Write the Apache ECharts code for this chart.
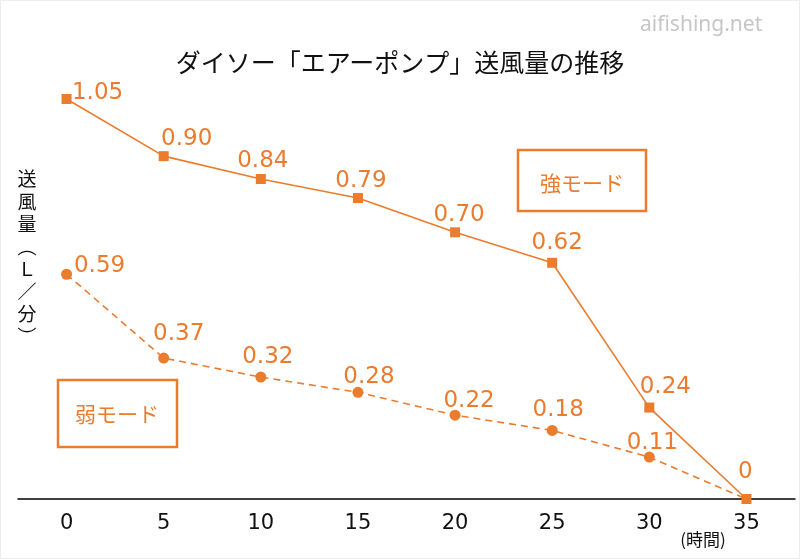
<!DOCTYPE html>
<html><head><meta charset="utf-8">
<script src="https://cdn.jsdelivr.net/npm/echarts@6/dist/echarts.min.js"></script>
<style>html,body{margin:0;padding:0;background:#fff}#c{width:800px;height:559px}</style>
</head><body><div id="c"></div>
<script>
const categories = ['0','5','10','15','20','25','30','35'];
const strongValues = [1.05, 0.90, 0.84, 0.79, 0.70, 0.62, 0.24, 0];
const weakValues = [0.59, 0.37, 0.32, 0.28, 0.22, 0.18, 0.11];
const strongLabelOffsets = [[31,-6],[23,-17],[2,-18],[3,-17],[4,-17],[5,-20],[16,-21],[-1,-27]];
const weakLabelOffsets = [[33,-8],[15,-24],[7,-20],[11,-15],[14,-14],[6,-20],[3,-14]];

const ORANGE = '#EB7B2D';
const FONT = '"Noto Sans CJK JP","Noto Sans",sans-serif';
const NUMFONT = '"DejaVu Sans",sans-serif';

function mk(vals, offs){
  return vals.map((v,i)=>({value:v, label:{offset:offs[i]}}));
}
const fmt = p => (p.value === 0 ? '0' : Number(p.value).toFixed(2));

const chart = echarts.init(document.getElementById('c'), null, {renderer:'canvas'});
chart.setOption({
  backgroundColor:'#ffffff',
  animation:false,
  title:{text:'ダイソー「エアーポンプ」送風量の推移', left:'center', top:45,
    textStyle:{fontFamily:FONT, fontSize:25, fontWeight:'normal', color:'#111'}},
  grid:{left:18, right:5, top:99, bottom:60},
  xAxis:{type:'category', data:categories, boundaryGap:true,
    axisLine:{lineStyle:{color:'#000', width:1.5}},
    axisTick:{show:false},
    axisLabel:{color:'#111', fontSize:21, fontFamily:NUMFONT, margin:14}},
  yAxis:{type:'value', min:0, max:1.05, show:false, splitLine:{show:false}},
  series:[
    {name:'強モード', type:'line', data:mk(strongValues,strongLabelOffsets),
      symbol:'rect', symbolSize:10, clip:false,
      itemStyle:{color:ORANGE}, lineStyle:{color:ORANGE, width:1.6},
      label:{show:true, position:'inside', color:ORANGE, fontSize:23, fontFamily:NUMFONT, formatter:fmt}},
    {name:'弱モード', type:'line', data:mk(weakValues,weakLabelOffsets).concat([{value:0, label:{show:false}, symbolSize:0}]),
      symbol:'circle', symbolSize:11, clip:false,
      itemStyle:{color:ORANGE}, lineStyle:{color:ORANGE, width:1.6, type:[7,5]},
      label:{show:true, position:'inside', color:ORANGE, fontSize:23, fontFamily:NUMFONT, formatter:fmt}}
  ],
  graphic:[
    {type:'rect', shape:{x:0.5,y:0.5,width:799,height:558}, style:{fill:null, stroke:'#ececec', lineWidth:1}, silent:true, z:-1},
    {type:'text', left:640, top:15, style:{text:'aifishing.net', fill:'#c6c6c6', font:'21px "Noto Sans",sans-serif'}},
    {type:'text', x:27, y:168, style:{text:'送\n風\n量\n︵\nＬ\n／\n分\n︶', fill:'#111', font:'19px '+FONT, lineHeight:22.5, align:'center', verticalAlign:'top'}},
    {type:'text', x:703, y:540, style:{text:'(時間)', fill:'#111', font:'17px '+FONT, align:'center', verticalAlign:'middle'}},
    {type:'rect', shape:{x:518,y:150,width:128,height:61}, style:{fill:'#fff', stroke:ORANGE, lineWidth:2.5}},
    {type:'text', x:582, y:183, style:{text:'強モード', fill:ORANGE, font:'21px '+FONT, align:'center', verticalAlign:'middle'}},
    {type:'rect', shape:{x:58,y:380,width:119,height:67}, style:{fill:'#fff', stroke:ORANGE, lineWidth:2.5}},
    {type:'text', x:117, y:414, style:{text:'弱モード', fill:ORANGE, font:'21px '+FONT, align:'center', verticalAlign:'middle'}}
  ]
});
</script></body></html>
